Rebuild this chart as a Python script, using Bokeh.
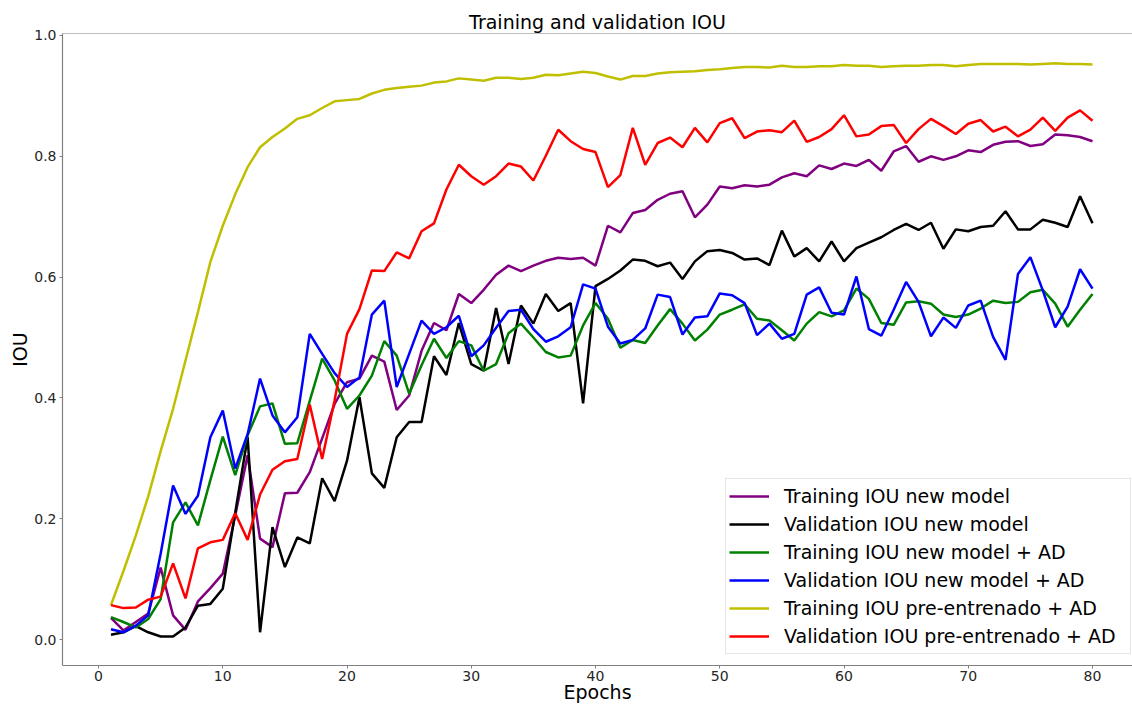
from bokeh.plotting import figure
from bokeh.models import Range1d, FixedTicker, Legend, LegendItem, Span
from bokeh.embed import file_html
from bokeh.resources import INLINE

epochs = list(range(1, 81))

train_new = [0.036, 0.015, 0.029, 0.043, 0.119, 0.040, 0.016, 0.063, 0.085, 0.109,
             0.205, 0.305, 0.167, 0.153, 0.242, 0.243, 0.277, 0.333, 0.390, 0.426,
             0.432, 0.470, 0.460, 0.380, 0.404, 0.478, 0.524, 0.512, 0.572, 0.557,
             0.579, 0.604, 0.619, 0.610, 0.619, 0.627, 0.632, 0.630, 0.632, 0.619,
             0.685, 0.674, 0.706, 0.711, 0.728, 0.738, 0.742, 0.699, 0.720, 0.750,
             0.747, 0.752, 0.750, 0.753, 0.765, 0.772, 0.767, 0.785, 0.779, 0.788,
             0.784, 0.794, 0.776, 0.808, 0.817, 0.791, 0.800, 0.794, 0.800, 0.810,
             0.807, 0.819, 0.824, 0.825, 0.817, 0.820, 0.836, 0.835, 0.832, 0.825]

val_new = [0.008, 0.012, 0.022, 0.012, 0.005, 0.005, 0.020, 0.056, 0.059, 0.084,
           0.210, 0.335, 0.012, 0.186, 0.120, 0.169, 0.159, 0.267, 0.229, 0.296,
           0.401, 0.275, 0.251, 0.335, 0.360, 0.360, 0.469, 0.438, 0.524, 0.456,
           0.445, 0.549, 0.456, 0.553, 0.523, 0.572, 0.544, 0.557, 0.391, 0.585,
           0.597, 0.611, 0.629, 0.627, 0.618, 0.624, 0.597, 0.626, 0.643, 0.645,
           0.640, 0.629, 0.631, 0.620, 0.677, 0.634, 0.648, 0.626, 0.659, 0.626,
           0.648, 0.657, 0.666, 0.678, 0.688, 0.678, 0.690, 0.647, 0.679, 0.676,
           0.683, 0.685, 0.709, 0.679, 0.679, 0.695, 0.690, 0.683, 0.734, 0.689]

train_new_ad = [0.037, 0.029, 0.020, 0.034, 0.067, 0.194, 0.227, 0.189, 0.264, 0.336,
                0.272, 0.338, 0.386, 0.391, 0.324, 0.325, 0.395, 0.465, 0.429, 0.382,
                0.404, 0.437, 0.494, 0.470, 0.407, 0.454, 0.498, 0.466, 0.494, 0.487,
                0.445, 0.456, 0.507, 0.523, 0.500, 0.476, 0.467, 0.470, 0.520, 0.557,
                0.531, 0.483, 0.496, 0.491, 0.520, 0.547, 0.523, 0.495, 0.513, 0.538,
                0.546, 0.555, 0.531, 0.528, 0.512, 0.495, 0.523, 0.542, 0.535, 0.545,
                0.581, 0.564, 0.524, 0.521, 0.558, 0.560, 0.556, 0.538, 0.534, 0.538,
                0.548, 0.561, 0.557, 0.559, 0.575, 0.579, 0.556, 0.518, 0.546, 0.572]

val_new_ad = [0.017, 0.012, 0.023, 0.040, 0.142, 0.255, 0.208, 0.238, 0.335, 0.379,
              0.283, 0.340, 0.432, 0.371, 0.343, 0.368, 0.506, 0.473, 0.441, 0.418,
              0.434, 0.538, 0.561, 0.418, 0.473, 0.528, 0.506, 0.517, 0.536, 0.469,
              0.487, 0.516, 0.544, 0.546, 0.514, 0.493, 0.502, 0.517, 0.588, 0.581,
              0.518, 0.490, 0.496, 0.515, 0.571, 0.567, 0.505, 0.533, 0.535, 0.573,
              0.570, 0.557, 0.504, 0.523, 0.498, 0.506, 0.571, 0.583, 0.541, 0.538,
              0.601, 0.514, 0.503, 0.546, 0.592, 0.559, 0.502, 0.533, 0.516, 0.553,
              0.561, 0.501, 0.463, 0.605, 0.633, 0.578, 0.517, 0.551, 0.613, 0.581]

train_pre_ad = [0.057, 0.113, 0.172, 0.237, 0.312, 0.382, 0.462, 0.542, 0.625, 0.685,
                0.737, 0.782, 0.815, 0.832, 0.846, 0.862, 0.868, 0.880, 0.891, 0.893,
                0.895, 0.904, 0.910, 0.913, 0.915, 0.917, 0.922, 0.924, 0.929, 0.927,
                0.925, 0.930, 0.930, 0.928, 0.930, 0.935, 0.934, 0.937, 0.940, 0.938,
                0.932, 0.927, 0.933, 0.933, 0.937, 0.939, 0.940, 0.941, 0.943, 0.944,
                0.946, 0.948, 0.948, 0.947, 0.950, 0.948, 0.948, 0.949, 0.949, 0.951,
                0.950, 0.950, 0.948, 0.949, 0.950, 0.950, 0.951, 0.951, 0.949, 0.951,
                0.953, 0.953, 0.953, 0.953, 0.952, 0.953, 0.954, 0.953, 0.953, 0.952]

val_pre_ad = [0.057, 0.052, 0.053, 0.066, 0.071, 0.126, 0.068, 0.151, 0.161, 0.165,
              0.209, 0.165, 0.240, 0.281, 0.295, 0.299, 0.389, 0.299, 0.396, 0.506,
              0.547, 0.611, 0.610, 0.641, 0.631, 0.676, 0.689, 0.745, 0.786, 0.767,
              0.753, 0.767, 0.788, 0.783, 0.760, 0.801, 0.844, 0.825, 0.812, 0.807,
              0.749, 0.769, 0.847, 0.786, 0.822, 0.831, 0.815, 0.847, 0.823, 0.855,
              0.863, 0.830, 0.841, 0.843, 0.840, 0.859, 0.824, 0.832, 0.845, 0.868,
              0.833, 0.836, 0.850, 0.852, 0.822, 0.845, 0.862, 0.850, 0.837, 0.854,
              0.860, 0.841, 0.849, 0.833, 0.844, 0.864, 0.842, 0.864, 0.876, 0.859]

series_names = ["Training IOU new model", "Validation IOU new model",
                "Training IOU new model + AD", "Validation IOU new model + AD",
                "Training IOU pre-entrenado + AD", "Validation IOU pre-entrenado + AD"]
series_values = [train_new, val_new, train_new_ad, val_new_ad, train_pre_ad, val_pre_ad]
series_colors = ["#800080", "#000000", "#008000", "#0000ff", "#bfbf00", "#ff0000"]

x_ticks = [0, 10, 20, 30, 40, 50, 60, 70, 80]
y_ticks = [0.0, 0.2, 0.4, 0.6, 0.8, 1.0]
y_tick_labels = ["0.0", "0.2", "0.4", "0.6", "0.8", "1.0"]

FONT = "DejaVu Sans"
SPINE = "#808080"

p = figure(width=1132, height=706, output_backend="svg", toolbar_location=None,
           x_range=Range1d(-2.9, 83.22), y_range=Range1d(-0.043, 1.0033),
           min_border_left=62, min_border_right=0, min_border_top=33, min_border_bottom=41)

p.title.text = "Training and validation IOU"
p.title.text_font = FONT
p.title.text_font_size = "19px"
p.title.text_font_style = "normal"
p.title.text_color = "#000000"
p.title.align = "center"
p.title.offset = 5
p.title.standoff = 2

p.grid.visible = False
p.outline_line_color = None
p.background_fill_color = "white"
p.border_fill_color = "white"

for ax in (p.xaxis[0], p.yaxis[0]):
    ax.axis_line_color = SPINE
    ax.axis_line_width = 1.2
    ax.major_tick_line_color = SPINE
    ax.major_tick_out = 3
    ax.major_tick_in = 0
    ax.minor_tick_line_color = None
    ax.major_label_text_font = FONT
    ax.major_label_text_font_size = "14px"
    ax.major_label_text_color = "#262626"
    ax.major_label_standoff = 3
    ax.axis_label_text_font = FONT
    ax.axis_label_text_font_size = "19px"
    ax.axis_label_text_font_style = "normal"
    ax.axis_label_text_color = "#000000"
    ax.axis_label_standoff = 0

p.xaxis[0].axis_label_standoff = -3
p.xaxis[0].major_label_standoff = 2

p.xaxis[0].axis_label = "Epochs"
p.yaxis[0].axis_label = "IOU"
p.xaxis[0].ticker = FixedTicker(ticks=x_ticks)
p.yaxis[0].ticker = FixedTicker(ticks=y_ticks)
p.yaxis[0].major_label_overrides = {t: l for t, l in zip(y_ticks, y_tick_labels)}

top_spine = Span(location=p.y_range.end, dimension="width", line_color=SPINE, line_width=1.2)
p.add_layout(top_spine)

items = []
for name, vals, col in zip(series_names, series_values, series_colors):
    r = p.line(epochs, vals, line_color=col, line_width=2.5)
    items.append(LegendItem(label=name, renderers=[r]))

legend = Legend(items=items, location=(663, 11),
                label_text_font=FONT, label_text_font_size="19px", label_text_color="#000000",
                glyph_width=40, glyph_height=28, label_height=28, label_width=343,
                label_standoff=15, spacing=0, padding=3, margin=0,
                border_line_color="#cccccc", border_line_width=1,
                background_fill_color="white", background_fill_alpha=0.85)
p.add_layout(legend)

open("out.html", "w").write(file_html(p, INLINE))
